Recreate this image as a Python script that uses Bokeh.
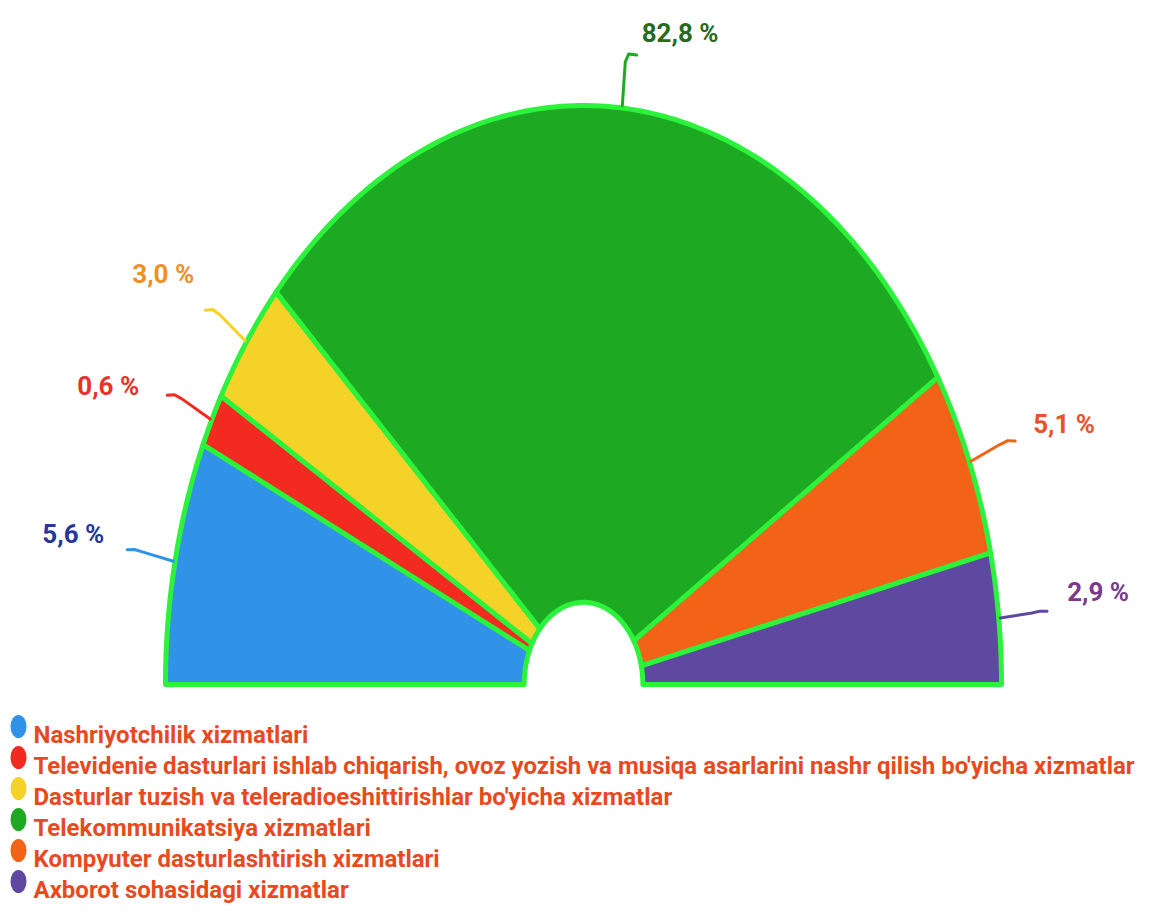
import numpy as np
from bokeh.plotting import figure
from bokeh.models import Range1d
from bokeh.core.properties import value
from bokeh.embed import file_html
from bokeh.resources import INLINE

# ---------------- data ----------------
categories = [
    "Nashriyotchilik xizmatlari",
    "Televidenie dasturlari ishlab chiqarish, ovoz yozish va musiqa asarlarini nashr qilish bo'yicha xizmatlar",
    "Dasturlar tuzish va teleradioeshittirishlar bo'yicha xizmatlar",
    "Telekommunikatsiya xizmatlari",
    "Kompyuter dasturlashtirish xizmatlari",
    "Axborot sohasidagi xizmatlar",
]
share_pct = [5.6, 0.6, 3.0, 82.8, 5.1, 2.9]          # printed labels
slice_weight = [13.6, 3.0, 7.1, 58.5, 10.5, 7.3]      # slice sizes as drawn
slice_colors = ["#3193e8", "#f22a1f", "#f4d227", "#1ea922", "#f26217", "#5e48a0"]
label_colors = ["#26379c", "#e8322a", "#ef8f2a", "#2a6a1e", "#e65428", "#7b3a8c"]

# ---------------- layout (pixels) ----------------
W, H = 1152, 906
OFF = 0
CX, CY = 583, 684
RX, RY = 418, 579
R_IN = 0.142
STROKE = "#2cf23c"
FONT = value("Roboto")
label_nudge = [(-23, -16), (-28, -9), (-11, -36), (5, -22), (18, -17), (20, -19)]


def px_x(x):
    return (x - CX) / RX


def px_y(y):
    return (CY - y) / RY


p = figure(width=W, height=H, output_backend="svg", toolbar_location=None,
           x_axis_location=None, y_axis_location=None, min_border=0,
           x_range=Range1d(px_x(OFF), px_x(OFF + W)),
           y_range=Range1d(px_y(OFF + H), px_y(OFF)))
p.grid.visible = False
p.outline_line_color = None
p.background_fill_color = "white"
p.border_fill_color = "white"

total = float(sum(slice_weight))
cum = np.concatenate([[0.0], np.cumsum(slice_weight)])
theta0 = np.pi - np.pi * cum[:-1] / total
theta1 = np.pi - np.pi * cum[1:] / total

xs, ys = [], []
for a0, a1 in zip(theta0, theta1):
    t = np.linspace(a0, a1, 120)
    xo, yo = np.cos(t), np.sin(t)
    xi, yi = R_IN * np.cos(t[::-1]), R_IN * np.sin(t[::-1])
    xs.append(list(np.concatenate([xo, xi])))
    ys.append(list(np.concatenate([yo, yi])))

p.patches(xs, ys, fill_color=slice_colors, line_color=STROKE, line_width=5,
          line_join="round")

# leader lines (radial tick with a short bend at the end)
lx, ly, ends = [], [], []
for a0, a1 in zip(theta0, theta1):
    m = 0.5 * (a0 + a1)
    side = 1 if np.cos(m) >= 0 else -1
    x0, y0 = 1.004 * np.cos(m), 1.004 * np.sin(m)
    x1, y1 = 1.08 * np.cos(m), 1.08 * np.sin(m)
    xb, yb = 1.092 * np.cos(m) + side * 3 / RX, 1.092 * np.sin(m) + 1 / RY
    x2, y2 = 1.09 * np.cos(m) + side * 11 / RX, 1.09 * np.sin(m) + 1 / RY
    lx.append([x0, x1, xb, x2])
    ly.append([y0, y1, yb, y2])
    ends.append((x2, y2, side))
p.multi_line(lx, ly, line_color=slice_colors, line_width=3, line_join="round",
             line_cap="round")

# percentage labels
for i, (x2, y2, side) in enumerate(ends):
    txt = f"{share_pct[i]:.1f}".replace(".", ",") + " %"
    dx, dy = label_nudge[i]
    p.text(x=[x2], y=[y2], text=[txt], x_offset=dx, y_offset=dy,
           text_align="left" if side > 0 else "right", text_baseline="middle",
           text_font=FONT, text_font_style="bold", text_font_size="26px",
           text_color=label_colors[i])

# legend
n = len(categories)
row_step = 31.0
mk_y = [px_y(726 + i * row_step) for i in range(n)]
tx_y = [px_y(734 + i * row_step) for i in range(n)]
p.ellipse(x=[px_x(18)] * n, y=mk_y, width=16, height=23, width_units="screen",
          height_units="screen", fill_color=slice_colors, line_color=None)
p.text(x=[px_x(33)] * n, y=tx_y, text=categories, text_align="left",
       text_baseline="alphabetic", text_font=FONT, text_font_style="bold",
       text_font_size="24px", text_color="#e84a1f")

open("out.html", "w").write(file_html(p, INLINE))
